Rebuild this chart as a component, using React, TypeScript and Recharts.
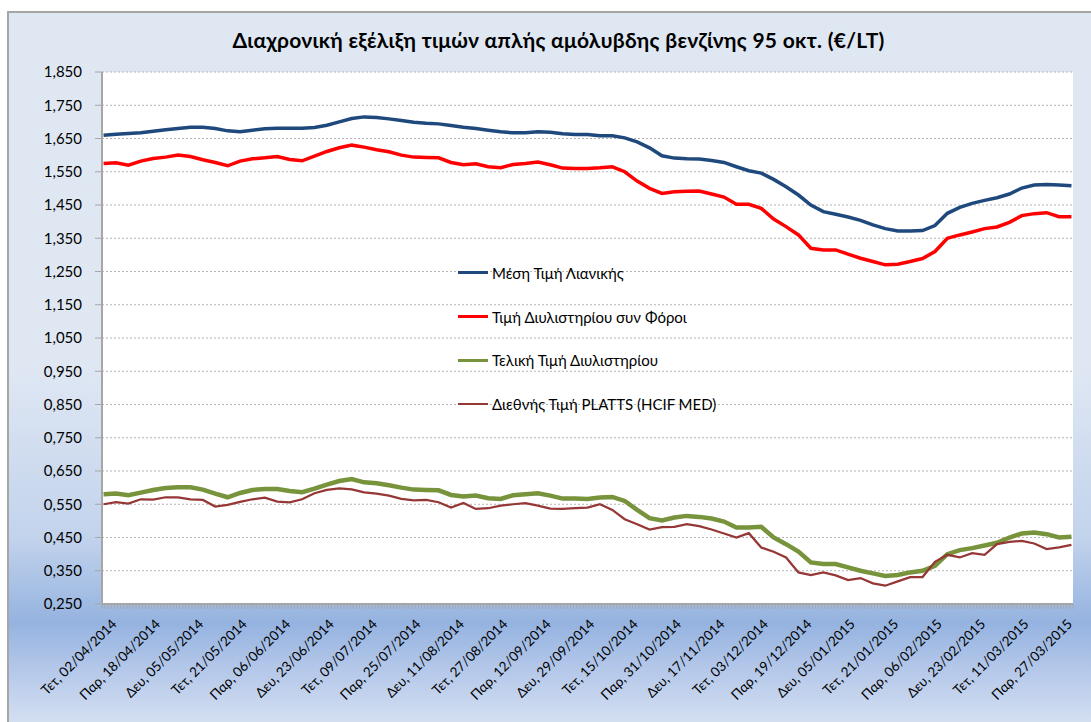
import { LineChart, Line, XAxis, YAxis, CartesianGrid, Legend } from 'recharts';

// trading-day index (Mon-Sat) of each sampled point, 02/04/2014 = 0
const DAY = [
  0, 4, 8, 12, 16, 20, 24, 28, 32, 36, 40, 44, 48, 52, 56, 60, 64, 68, 72, 76,
  80, 84, 88, 92, 96, 100, 104, 108, 112, 116, 120, 124, 128, 132, 136, 140, 144, 148, 152, 156,
  160, 164, 168, 172, 176, 180, 184, 188, 192, 196, 200, 204, 208, 212, 216, 220, 224, 228, 232, 236,
  240, 244, 248, 252, 256, 260, 264, 268, 272, 276, 280, 284, 288, 292, 296, 300, 304, 308, 312,
];

const RETAIL = [
  1.660, 1.663, 1.665, 1.667, 1.672, 1.676, 1.680, 1.684, 1.684, 1.680, 1.673, 1.670, 1.675, 1.679, 1.681, 1.681, 1.681, 1.683, 1.690, 1.700,
  1.710, 1.715, 1.713, 1.709, 1.704, 1.699, 1.696, 1.694, 1.689, 1.684, 1.680, 1.675, 1.670, 1.667, 1.667, 1.670, 1.669, 1.664, 1.662, 1.662,
  1.658, 1.658, 1.652, 1.640, 1.622, 1.598, 1.591, 1.589, 1.588, 1.584, 1.578, 1.565, 1.553, 1.546, 1.527, 1.505, 1.480, 1.450, 1.430, 1.422,
  1.414, 1.404, 1.390, 1.379, 1.372, 1.372, 1.373, 1.388, 1.425, 1.443, 1.455, 1.464, 1.472, 1.483, 1.501, 1.510, 1.512, 1.510, 1.508,
];

const REFINERY_TAX = [
  1.575, 1.577, 1.570, 1.582, 1.590, 1.594, 1.600, 1.596, 1.586, 1.578, 1.568, 1.582, 1.589, 1.592, 1.596, 1.587, 1.583, 1.597, 1.611, 1.622,
  1.630, 1.624, 1.616, 1.610, 1.600, 1.594, 1.593, 1.592, 1.578, 1.571, 1.574, 1.565, 1.562, 1.572, 1.575, 1.579, 1.571, 1.561, 1.560, 1.560,
  1.562, 1.565, 1.550, 1.522, 1.500, 1.485, 1.490, 1.491, 1.492, 1.483, 1.474, 1.452, 1.452, 1.440, 1.408, 1.385, 1.360, 1.320, 1.315, 1.315,
  1.302, 1.290, 1.280, 1.270, 1.272, 1.280, 1.289, 1.310, 1.350, 1.360, 1.369, 1.379, 1.384, 1.398, 1.418, 1.424, 1.427, 1.415, 1.415,
];

const REFINERY = [
  0.580, 0.582, 0.577, 0.585, 0.593, 0.599, 0.601, 0.601, 0.594, 0.582, 0.571, 0.584, 0.593, 0.596, 0.596, 0.590, 0.586, 0.597, 0.609, 0.620,
  0.626, 0.616, 0.613, 0.607, 0.600, 0.594, 0.593, 0.592, 0.578, 0.573, 0.576, 0.568, 0.566, 0.577, 0.580, 0.583, 0.576, 0.567, 0.567, 0.566,
  0.570, 0.572, 0.560, 0.533, 0.508, 0.501, 0.510, 0.515, 0.512, 0.507, 0.498, 0.480, 0.480, 0.482, 0.450, 0.430, 0.408, 0.375, 0.370, 0.370,
  0.360, 0.350, 0.342, 0.334, 0.337, 0.345, 0.350, 0.365, 0.400, 0.412, 0.418, 0.426, 0.434, 0.450, 0.462, 0.465, 0.460, 0.450, 0.452,
];

const PLATTS = [
  0.550, 0.556, 0.552, 0.565, 0.564, 0.571, 0.571, 0.565, 0.563, 0.543, 0.548, 0.557, 0.565, 0.570, 0.558, 0.556, 0.565, 0.583, 0.593, 0.598,
  0.595, 0.586, 0.582, 0.576, 0.566, 0.562, 0.563, 0.556, 0.540, 0.554, 0.536, 0.538, 0.546, 0.550, 0.553, 0.546, 0.537, 0.536, 0.538, 0.540,
  0.550, 0.533, 0.505, 0.490, 0.474, 0.481, 0.482, 0.490, 0.484, 0.474, 0.462, 0.450, 0.463, 0.420, 0.407, 0.390, 0.345, 0.337, 0.345, 0.336,
  0.322, 0.328, 0.312, 0.305, 0.318, 0.331, 0.331, 0.377, 0.398, 0.390, 0.403, 0.398, 0.430, 0.437, 0.440, 0.432, 0.415, 0.420, 0.428,
];

// one label every 14 trading days
const TICK_LABELS = [
  'Τετ, 02/04/2014', 'Παρ, 18/04/2014', 'Δευ, 05/05/2014', 'Τετ, 21/05/2014', 'Παρ, 06/06/2014', 'Δευ, 23/06/2014',
  'Τετ, 09/07/2014', 'Παρ, 25/07/2014', 'Δευ, 11/08/2014', 'Τετ, 27/08/2014', 'Παρ, 12/09/2014', 'Δευ, 29/09/2014',
  'Τετ, 15/10/2014', 'Παρ, 31/10/2014', 'Δευ, 17/11/2014', 'Τετ, 03/12/2014', 'Παρ, 19/12/2014', 'Δευ, 05/01/2015',
  'Τετ, 21/01/2015', 'Παρ, 06/02/2015', 'Δευ, 23/02/2015', 'Τετ, 11/03/2015', 'Παρ, 27/03/2015',
];
const LABEL_STEP = 14;
const DAY_COUNT = 313;

const Y_TICKS = [0.25, 0.35, 0.45, 0.55, 0.65, 0.75, 0.85, 0.95, 1.05, 1.15, 1.25, 1.35, 1.45, 1.55, 1.65, 1.75, 1.85];

const SERIES = [
  { key: 'retail', name: 'Μέση Τιμή Λιανικής', color: '#1F497D', width: 3.5 },
  { key: 'refineryTax', name: 'Τιμή Διυλιστηρίου συν Φόροι', color: '#FF0000', width: 3.5 },
  { key: 'refinery', name: 'Τελική Τιμή Διυλιστηρίου', color: '#77933C', width: 4.5 },
  { key: 'platts', name: 'Διεθνής Τιμή PLATTS (HCIF MED)', color: '#953735', width: 2.25 },
];

const data = DAY.map((day, i) => ({
  day,
  retail: RETAIL[i],
  refineryTax: REFINERY_TAX[i],
  refinery: REFINERY[i],
  platts: PLATTS[i],
}));

// tick marks sit between categories, like Excel
const boundaryTicks = Array.from({ length: DAY_COUNT + 1 }, (_, i) => i - 0.5);

const FONT = 'Lato, "Open Sans", sans-serif';

const DateTick = (props: any) => {
  const { x, y, payload } = props;
  const cat = payload.value + 0.5;
  if (cat % LABEL_STEP !== 0) return <g />;
  const label = TICK_LABELS[cat / LABEL_STEP];
  if (!label) return <g />;
  const tx = x + 1.55 + 14;
  const ty = y + 14;
  return (
    <text
      x={tx}
      y={ty}
      transform={`rotate(-45 ${tx} ${ty})`}
      textAnchor="end"
      fontSize={13.5}
      fontFamily={FONT}
      fill="#000"
    >
      {label}
    </text>
  );
};

const LegendBox = () => (
  <div style={{ fontFamily: FONT, fontSize: 15, color: '#000' }}>
    {SERIES.map((s) => (
      <div key={s.key} style={{ display: 'flex', alignItems: 'center', height: 43.7 }}>
        <div style={{ width: 30, height: s.width > 3 ? 3 : 2, background: s.color, marginRight: 4 }} />
        <span>{s.name}</span>
      </div>
    ))}
  </div>
);

const App = () => {
  return (
    <div>
      <style>{'body{margin:0;overflow:hidden;}'}</style>
      <div style={{ position: 'absolute', left: 8, top: 12, width: 1083, height: 710 }}>
        <div
          style={{
            position: 'absolute',
            left: -1,
            top: -1,
            right: 0,
            bottom: 0,
            borderLeft: '2px solid #a6a6a6',
            borderTop: '2px solid #a6a6a6',
            background:
              'linear-gradient(to bottom, #dfe7f3 0%, #dfe7f3 50%, #c2d3ec 74%, #95b3e0 86%, #b6c9ea 93%, #d3dff1 100%)',
          }}
        />
        <div
          style={{
            position: 'absolute',
            left: 9,
            top: 17,
            width: 1083,
            textAlign: 'center',
            fontFamily: FONT,
            fontWeight: 'bold',
            fontSize: 21,
            letterSpacing: 0.3,
            lineHeight: '22px',
            color: '#000',
          }}
        >
          Διαχρονική εξέλιξη τιμών απλής αμόλυβδης βενζίνης 95 οκτ. (€/LT)
        </div>
        <LineChart
          width={1083}
          height={710}
          data={data}
          margin={{ top: 60, right: 18, bottom: 0, left: 0 }}
          style={{ position: 'absolute', left: 0, top: 0 }}
        >
          <CartesianGrid horizontal vertical={false} fill="#ffffff" stroke="#b4b4b4" strokeDasharray="2 2" />
          <XAxis
            dataKey="day"
            type="number"
            domain={[-0.5, DAY_COUNT - 0.5]}
            ticks={boundaryTicks}
            interval={0}
            height={118}
            tick={<DateTick />}
            tickSize={5}
            tickMargin={2}
            tickLine={{ stroke: '#a6a6a6' }}
            axisLine={{ stroke: '#a6a6a6', strokeWidth: 2 }}
            allowDataOverflow
          />
          <YAxis
            type="number"
            domain={[0.25, 1.85]}
            ticks={Y_TICKS}
            interval={0}
            width={94}
            tickSize={7}
            tickMargin={13}
            tickLine={{ stroke: '#a6a6a6' }}
            axisLine={{ stroke: '#a6a6a6', strokeWidth: 2 }}
            tick={{ fontSize: 15, fontFamily: FONT, fill: '#000' }}
            tickFormatter={(v: number) => v.toFixed(3).replace('.', ',')}
            allowDataOverflow
          />
          <Legend
            layout="vertical"
            align="center"
            verticalAlign="middle"
            content={<LegendBox />}
            wrapperStyle={{ left: 450, top: 239, width: 320, height: 180 }}
          />
          {SERIES.map((s) => (
            <Line
              key={s.key}
              type="linear"
              dataKey={s.key}
              name={s.name}
              stroke={s.color}
              strokeWidth={s.width}
              dot={false}
              activeDot={false}
              isAnimationActive={false}
            />
          ))}
        </LineChart>
      </div>
    </div>
  );
};

export default App;
